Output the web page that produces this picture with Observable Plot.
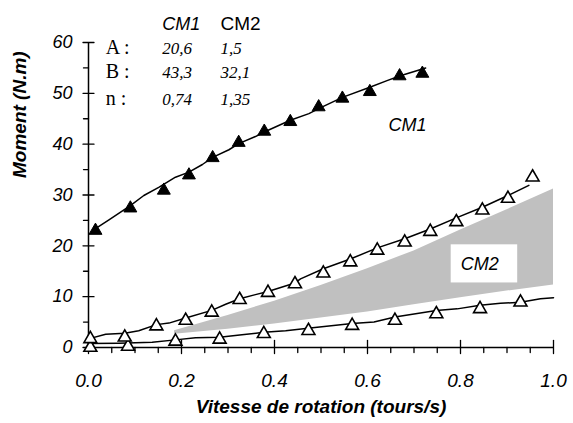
<!DOCTYPE html>
<html><head><meta charset="utf-8">
<script src="https://cdn.jsdelivr.net/npm/d3@7"></script>
<script src="https://cdn.jsdelivr.net/npm/@observablehq/plot@0.6"></script>
<style>body{margin:0;background:#fff}svg{display:block}</style>
</head><body><div id="chart"></div>
<script>
// CM1 measured points (filled triangles)
const cm1PtsX = [0.015, 0.090, 0.162, 0.216, 0.267, 0.323, 0.378, 0.434, 0.495, 0.546, 0.605, 0.669, 0.718];
const cm1PtsY = [23.0, 27.4, 30.9, 33.9, 37.3, 40.3, 42.5, 44.4, 47.3, 49.0, 50.3, 53.4, 53.9];
// CM1 fitted curve
const cm1LineX = [0.015, 0.044, 0.090, 0.119, 0.151, 0.187, 0.216, 0.245, 0.267, 0.302, 0.323, 0.359, 0.378, 0.434, 0.474, 0.495, 0.546, 0.605, 0.642, 0.669, 0.725];
const cm1LineY = [23.4, 25.1, 27.9, 29.9, 31.5, 33.5, 34.5, 36.0, 37.4, 38.9, 40.1, 41.5, 42.4, 44.7, 46.0, 47.0, 49.2, 51.2, 52.5, 53.4, 55.0];
// CM2 upper series (open triangles)
const cm2UpPtsX = [0.004, 0.078, 0.146, 0.209, 0.265, 0.325, 0.386, 0.444, 0.505, 0.563, 0.621, 0.680, 0.735, 0.791, 0.847, 0.902, 0.955];
const cm2UpPtsY = [1.7, 2.0, 4.2, 5.3, 6.9, 9.4, 10.8, 12.5, 14.6, 16.8, 19.1, 20.7, 22.8, 24.7, 27.0, 29.3, 33.5];
const cm2UpLineX = [0.000, 0.037, 0.078, 0.108, 0.146, 0.173, 0.209, 0.265, 0.295, 0.325, 0.359, 0.386, 0.444, 0.456, 0.505, 0.563, 0.621, 0.680, 0.735, 0.791, 0.847, 0.902, 0.947];
const cm2UpLineY = [1.7, 2.6, 2.8, 3.3, 4.5, 4.8, 5.8, 7.3, 8.5, 9.6, 10.4, 11.0, 12.7, 13.5, 15.5, 17.4, 19.6, 21.4, 23.3, 25.5, 27.6, 29.9, 31.9];
// CM2 lower series (open triangles)
const cm2LoPtsX = [0.004, 0.085, 0.187, 0.282, 0.377, 0.473, 0.567, 0.659, 0.748, 0.842, 0.929];
const cm2LoPtsY = [0.0, 0.2, 1.2, 1.6, 2.7, 3.3, 4.3, 5.3, 6.6, 7.6, 8.9];
const cm2LoLineX = [0.000, 0.065, 0.137, 0.187, 0.230, 0.282, 0.330, 0.377, 0.424, 0.472, 0.567, 0.614, 0.659, 0.748, 0.793, 0.842, 0.886, 0.929, 0.972, 1.000];
const cm2LoLineY = [0.8, 0.85, 1.05, 1.5, 1.9, 2.0, 2.5, 3.0, 3.3, 3.8, 4.7, 5.0, 6.0, 7.3, 7.6, 8.3, 8.7, 8.9, 9.6, 9.8];
// CM2 model envelope (grey band)
const bandX    = [0.185, 0.3, 0.4, 0.5, 0.6, 0.7, 0.8, 0.9, 1.0];
const bandLow  = [2.6, 3.6, 4.6, 5.8, 7.0, 8.4, 9.8, 11.1, 12.3];
const bandHigh = [3.3, 6.3, 9.1, 12.2, 15.5, 19.0, 23.1, 27.1, 31.2];
// Parameter table
const tableHeaders = ["CM1", "CM2"];
const tableRows = ["A :", "B :", "n :"];
const tableCM1 = ["20,6", "43,3", "0,74"];
const tableCM2 = ["1,5", "32,1", "1,35"];
// Axes
const xTicks = [0, 0.2, 0.4, 0.6, 0.8, 1.0];
const xTickLabels = ["0.0", "0.2", "0.4", "0.6", "0.8", "1.0"];
const xMinor = [0.05, 0.1, 0.15, 0.25, 0.3, 0.35, 0.45, 0.5, 0.55, 0.65, 0.7, 0.75, 0.85, 0.9, 0.95];
const yTicks = [0, 10, 20, 30, 40, 50, 60];
const yTickLabels = ["0", "10", "20", "30", "40", "50", "60"];
const yMinor = [5, 15, 25, 35, 45, 55];
const xTitle = "Vitesse de rotation (tours/s)";
const yTitle = "Moment (N.m)";

const idx = a => a.map((_, i) => i);
const sans = "'Liberation Sans', Arial, sans-serif";
const serif = "'Liberation Serif', 'Times New Roman', serif";
const tick = {draw(ctx, l) { ctx.moveTo(0, 0); ctx.lineTo(0, -l); }};

// annotation anchor positions (data units)
const tabHeadY = 62.5, tabRowY = [57.8, 53.1, 47.8];
const tabColX = [0.037, 0.1585, 0.284];

const chart = Plot.plot({
  width: 573, height: 423,
  marginLeft: 88, marginRight: 20, marginTop: 42, marginBottom: 76,
  x: {domain: [0, 1], axis: null},
  y: {domain: [0, 60], axis: null},
  style: {fontFamily: sans, background: "white", overflow: "visible"},
  marks: [
    // grey band
    Plot.areaY(idx(bandX), {x: i => bandX[i], y1: i => bandLow[i], y2: i => bandHigh[i], fill: "#c0c0c0", curve: "linear"}),
    // white label box
    Plot.rect([0], {x1: 0.780, x2: 0.923, y1: 12.7, y2: 20.2, fill: "white"}),
    // axes lines
    Plot.ruleX([0], {y1: 0, y2: 60, stroke: "black", strokeWidth: 1.5}),
    Plot.ruleY([0], {x1: 0, x2: 1, stroke: "black", strokeWidth: 1.5}),
    // ticks
    Plot.vector(yTicks, {x: 0, y: d => d, length: 11, rotate: 90, anchor: "middle", shape: tick, stroke: "black", strokeWidth: 1.3}),
    Plot.vector(yMinor, {x: 0, y: d => d, length: 5, rotate: -90, anchor: "start", shape: tick, stroke: "black", strokeWidth: 1.3}),
    Plot.vector(xTicks, {x: d => d, y: 0, length: 13, rotate: 0, anchor: "middle", shape: tick, stroke: "black", strokeWidth: 1.3, dy: -0.5}),
    Plot.vector(xMinor, {x: d => d, y: 0, length: 5, rotate: 180, anchor: "start", shape: tick, stroke: "black", strokeWidth: 1.3}),
    // tick labels
    Plot.text(yTicks, {x: 0, y: d => d, text: (d, i) => yTickLabels[i], textAnchor: "end", dx: -16, fontSize: 18, fontStyle: "italic", fill: "black"}),
    Plot.text(xTicks, {x: d => d, y: 0, text: (d, i) => xTickLabels[i], dy: 33, fontSize: 19, fontStyle: "italic", fill: "black"}),
    // axis titles
    Plot.text([yTitle], {frameAnchor: "left", text: d => d, rotate: -90, dx: -69, dy: -17, fontSize: 19, fontWeight: "bold", fontStyle: "italic", fill: "black"}),
    Plot.text([xTitle], {frameAnchor: "bottom", text: d => d, dy: 65, fontSize: 19, fontWeight: "bold", fontStyle: "italic", fill: "black"}),
    // curves
    Plot.line(idx(cm2LoLineX), {x: i => cm2LoLineX[i], y: i => cm2LoLineY[i], stroke: "black", strokeWidth: 1.5}),
    Plot.line(idx(cm2UpLineX), {x: i => cm2UpLineX[i], y: i => cm2UpLineY[i], stroke: "black", strokeWidth: 1.5}),
    Plot.line(idx(cm1LineX), {x: i => cm1LineX[i], y: i => cm1LineY[i], stroke: "black", strokeWidth: 1.5}),
    // markers
    Plot.dot(idx(cm2LoPtsX), {x: i => cm2LoPtsX[i], y: i => cm2LoPtsY[i], symbol: "triangle", r: 4.8, fill: "white", stroke: "black", strokeWidth: 1.6}),
    Plot.dot(idx(cm2UpPtsX), {x: i => cm2UpPtsX[i], y: i => cm2UpPtsY[i], symbol: "triangle", r: 4.8, fill: "white", stroke: "black", strokeWidth: 1.6}),
    Plot.dot(idx(cm1PtsX), {x: i => cm1PtsX[i], y: i => cm1PtsY[i], symbol: "triangle", r: 4.8, fill: "black", stroke: "black", strokeWidth: 1}),
    // series labels
    Plot.text(["CM1"], {x: 0.686, y: 43.8, text: d => d, fontSize: 18, fontStyle: "italic", fill: "black"}),
    Plot.text(["CM2"], {x: 0.8415, y: 16.3, text: d => d, fontSize: 18, fontStyle: "italic", fill: "black"}),
    // parameter table
    Plot.text([tableHeaders[0]], {x: tabColX[1], y: tabHeadY, text: d => d, textAnchor: "start", lineAnchor: "bottom", fontSize: 18, fontStyle: "italic", fill: "black"}),
    Plot.text([tableHeaders[1]], {x: tabColX[2], y: tabHeadY, text: d => d, textAnchor: "start", lineAnchor: "bottom", fontSize: 19, fill: "black"}),
    Plot.text(tableRows, {x: tabColX[0], y: (d, i) => tabRowY[i], text: d => d, textAnchor: "start", lineAnchor: "bottom", fontSize: 20, fontFamily: serif, fill: "black"}),
    Plot.text(tableCM1, {x: tabColX[1], y: (d, i) => tabRowY[i], text: d => d, textAnchor: "start", lineAnchor: "bottom", fontSize: 17, fontStyle: "italic", fontFamily: serif, fill: "black"}),
    Plot.text(tableCM2, {x: tabColX[2], y: (d, i) => tabRowY[i], text: d => d, textAnchor: "start", lineAnchor: "bottom", fontSize: 17, fontStyle: "italic", fontFamily: serif, fill: "black"})
  ]
});
document.getElementById("chart").appendChild(chart);
</script>
</body></html>
